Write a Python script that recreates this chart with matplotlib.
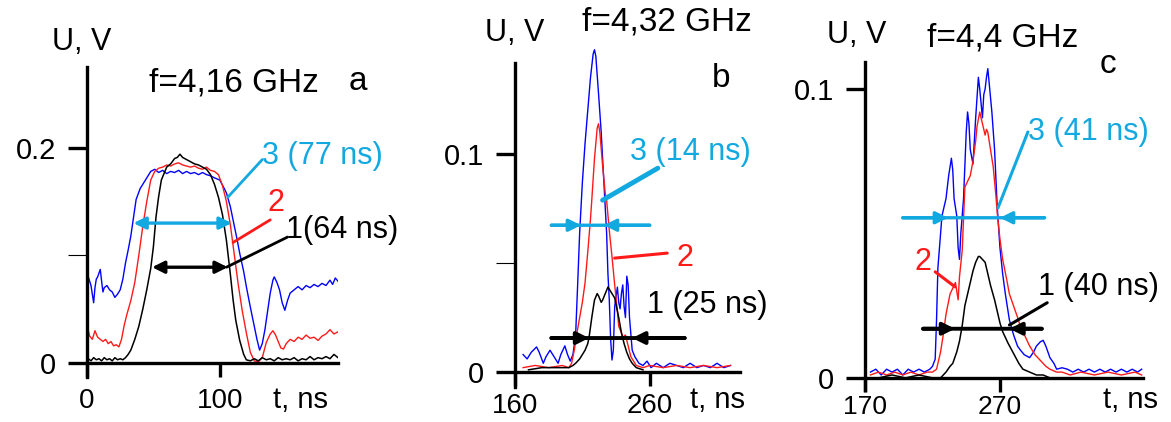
import numpy as np
import matplotlib
matplotlib.use("Agg")
import matplotlib.pyplot as plt
from matplotlib.ticker import NullLocator

plt.rcParams['font.family'] = ['Liberation Sans', 'DejaVu Sans']

BLUE = '#0000ff'
RED = '#ff1a1a'
CYAN = '#12a8e0'

# ---------------- panel a: f = 4.16 GHz ----------------
a_black = [(0, 0.010), (1, 0.004), (3, 0.002), (5, 0.005), (7, 0.003), (9, 0.004), (11, 0.002),
           (13, 0.005), (15, 0.003), (17, 0.004), (19, 0.002), (21, 0.005), (23, 0.003), (25, 0.004),
           (27, 0.003), (29, 0.005), (31, 0.008), (33, 0.012), (36, 0.022), (39, 0.034), (42, 0.050),
           (45, 0.068), (48, 0.088), (50, 0.108), (52, 0.136), (54, 0.155), (56, 0.170), (58, 0.176),
           (60, 0.182), (63, 0.185), (66, 0.190), (68, 0.191), (70, 0.194), (72, 0.191), (75, 0.189),
           (78, 0.187), (81, 0.185), (84, 0.184), (87, 0.182), (90, 0.180), (93, 0.175), (96, 0.166),
           (99, 0.154), (102, 0.138), (105, 0.114), (108, 0.082), (110, 0.059), (112, 0.040),
           (115, 0.021), (118, 0.008), (120, 0.003), (123, 0.002), (126, 0.004), (129, 0.002),
           (132, 0.005), (135, 0.003), (138, 0.004), (141, 0.002), (144, 0.005), (147, 0.003),
           (150, 0.004), (153, 0.003), (156, 0.005), (159, 0.002), (162, 0.004), (165, 0.003),
           (168, 0.006), (171, 0.003), (174, 0.005), (177, 0.004), (180, 0.006), (183, 0.004),
           (186, 0.008), (189, 0.005)]
a_red = [(0, 0.035), (2, 0.025), (4, 0.022), (6, 0.030), (8, 0.024), (10, 0.022), (12, 0.020),
         (14, 0.022), (16, 0.018), (18, 0.020), (20, 0.016), (22, 0.017), (24, 0.015), (26, 0.022),
         (28, 0.035), (30, 0.045), (33, 0.058), (36, 0.075), (39, 0.100), (42, 0.127), (45, 0.150),
         (48, 0.170), (51, 0.178), (54, 0.181), (57, 0.182), (60, 0.184), (63, 0.183), (66, 0.185),
         (69, 0.186), (72, 0.184), (75, 0.183), (78, 0.182), (81, 0.183), (84, 0.181), (87, 0.180),
         (90, 0.182), (93, 0.179), (96, 0.178), (99, 0.175), (102, 0.165), (105, 0.150), (108, 0.128),
         (111, 0.100), (114, 0.072), (117, 0.048), (120, 0.028), (123, 0.010), (126, 0.002),
         (129, 0.001), (132, 0.005), (135, 0.019), (138, 0.027), (140, 0.030), (142, 0.026),
         (144, 0.020), (146, 0.014), (148, 0.013), (150, 0.018), (153, 0.022), (156, 0.020),
         (159, 0.024), (162, 0.022), (165, 0.026), (168, 0.023), (171, 0.024), (174, 0.021),
         (177, 0.025), (180, 0.027), (183, 0.031), (186, 0.027), (189, 0.029)]
a_blue = [(0, 0.084), (1, 0.080), (2, 0.076), (3, 0.072), (4, 0.064), (5, 0.056), (6, 0.070),
          (7, 0.078), (8, 0.080), (10, 0.087), (11, 0.076), (12, 0.066), (13, 0.070), (15, 0.072),
          (17, 0.068), (19, 0.066), (21, 0.061), (23, 0.064), (25, 0.068), (27, 0.078), (29, 0.093),
          (31, 0.105), (33, 0.118), (35, 0.135), (37, 0.152), (40, 0.162), (42, 0.166), (45, 0.172),
          (48, 0.178), (51, 0.180), (54, 0.177), (57, 0.179), (60, 0.176), (63, 0.178), (66, 0.177),
          (69, 0.179), (72, 0.176), (75, 0.178), (78, 0.176), (81, 0.177), (84, 0.175), (87, 0.177),
          (90, 0.175), (93, 0.174), (96, 0.172), (100, 0.170), (103, 0.163), (105, 0.158),
          (108, 0.145), (110, 0.133), (113, 0.115), (115, 0.102), (118, 0.085), (120, 0.071),
          (123, 0.052), (125, 0.040), (128, 0.022), (130, 0.012), (132, 0.018), (134, 0.031),
          (136, 0.048), (138, 0.065), (140, 0.077), (141, 0.080), (143, 0.075), (145, 0.068),
          (147, 0.056), (149, 0.049), (151, 0.058), (153, 0.065), (156, 0.068), (159, 0.071),
          (162, 0.068), (165, 0.072), (168, 0.070), (171, 0.073), (174, 0.071), (177, 0.074),
          (180, 0.072), (183, 0.077), (185, 0.073), (187, 0.079), (189, 0.076)]

# ---------------- panel b: f = 4.32 GHz ----------------
b_blue = [(166, 0.008), (169, 0.006), (172, 0.009), (176, 0.0115), (178, 0.009), (181, 0.004),
          (183, 0.007), (186, 0.010), (188, 0.008), (192, 0.004), (194, 0.008), (197, 0.012),
          (199, 0.008), (201, 0.005), (203, 0.008), (205, 0.017), (206.5, 0.040), (208, 0.064),
          (210, 0.087), (212, 0.105), (214, 0.120), (216, 0.135), (218, 0.146), (219, 0.148),
          (220, 0.145), (222, 0.128), (224, 0.110), (226, 0.087), (228, 0.064), (229, 0.045),
          (230, 0.033), (231, 0.015), (232, 0.0055), (233, 0.010), (234, 0.030), (236, 0.039),
          (237, 0.032), (238, 0.029), (239, 0.036), (240, 0.040), (241, 0.030), (242, 0.025),
          (243, 0.044), (244, 0.040), (245, 0.025), (247, 0.010), (249, 0.007), (252, 0.004),
          (255, 0.003), (258, 0.005), (261, 0.002), (265, 0.004), (270, 0.002), (275, 0.004),
          (280, 0.003), (285, 0.002), (290, 0.004), (295, 0.002), (300, 0.003), (305, 0.002),
          (310, 0.004), (315, 0.002), (320, 0.003)]
b_red = [(166, 0.002), (175, 0.003), (185, 0.002), (195, 0.003), (200, 0.002), (202, 0.004),
         (204, 0.010), (206, 0.018), (208, 0.025), (210, 0.032), (212, 0.041), (214, 0.055),
         (216, 0.070), (217, 0.079), (219, 0.098), (221, 0.112), (222, 0.114), (223, 0.110),
         (225, 0.095), (227, 0.082), (228, 0.079), (230, 0.065), (232, 0.053), (234, 0.040),
         (236, 0.028), (237, 0.021), (239, 0.018), (240, 0.016), (242, 0.017), (244, 0.012),
         (246, 0.007), (248, 0.005), (250, 0.003), (255, 0.002), (260, 0.003), (270, 0.002),
         (280, 0.003), (290, 0.002), (300, 0.003), (310, 0.002), (320, 0.003)]
b_black = [(170, 0.001), (180, 0.002), (190, 0.002), (200, 0.002), (203, 0.003), (205, 0.004),
           (208, 0.006), (210, 0.008), (212, 0.010), (214, 0.013), (215, 0.016), (217, 0.025),
           (219, 0.033), (221, 0.036), (222, 0.035), (224, 0.032), (225, 0.033), (227, 0.036),
           (229, 0.039), (230, 0.038), (232, 0.036), (234, 0.034), (235, 0.031), (237, 0.025),
           (239, 0.018), (241, 0.013), (243, 0.009), (245, 0.006), (247, 0.004), (250, 0.002),
           (255, 0.001)]

# ---------------- panel c: f = 4.4 GHz ----------------
c_blue = [(174, 0.002), (178, 0.003), (182, 0.001), (186, 0.003), (190, 0.002), (194, 0.003),
          (198, 0.001), (202, 0.003), (206, 0.002), (210, 0.003), (214, 0.002), (218, 0.003),
          (220, 0.004), (222, 0.0065), (223, 0.020), (224, 0.038), (226, 0.050), (227, 0.056),
          (229, 0.060), (230, 0.062), (232, 0.070), (234, 0.076), (235, 0.072), (236, 0.062),
          (238, 0.056), (239, 0.045), (240, 0.041), (241, 0.050), (243, 0.062), (245, 0.085),
          (246, 0.092), (247, 0.088), (248, 0.079), (250, 0.074), (252, 0.090), (254, 0.104),
          (255, 0.100), (256, 0.095), (257, 0.090), (258, 0.098), (259, 0.100), (260, 0.104),
          (261, 0.107), (262, 0.102), (264, 0.092), (266, 0.079), (268, 0.059), (270, 0.045),
          (272, 0.036), (274, 0.029), (277, 0.020), (280, 0.015), (283, 0.011), (285, 0.0097),
          (288, 0.008), (292, 0.007), (295, 0.009), (297, 0.011), (300, 0.0125), (302, 0.013),
          (304, 0.011), (307, 0.007), (310, 0.005), (312, 0.003), (316, 0.0035), (320, 0.003),
          (324, 0.002), (328, 0.003), (332, 0.002), (336, 0.003), (340, 0.002), (344, 0.003),
          (348, 0.002), (352, 0.003), (356, 0.002), (360, 0.003), (364, 0.002), (368, 0.003),
          (372, 0.002), (375, 0.003)]
c_red = [(174, 0.001), (180, 0.002), (186, 0.001), (192, 0.002), (198, 0.001), (204, 0.002),
         (210, 0.001), (216, 0.002), (220, 0.002), (223, 0.003), (226, 0.009), (228, 0.015),
         (230, 0.022), (233, 0.029), (235, 0.031), (237, 0.033), (239, 0.027), (240, 0.035),
         (242, 0.044), (244, 0.066), (246, 0.068), (248, 0.070), (250, 0.075), (252, 0.082),
         (253, 0.087), (255, 0.092), (257, 0.088), (259, 0.084), (260, 0.086), (261, 0.085),
         (263, 0.079), (265, 0.073), (267, 0.063), (268, 0.057), (270, 0.048), (272, 0.041),
         (275, 0.034), (277, 0.029), (280, 0.025), (283, 0.021), (285, 0.018), (288, 0.015),
         (292, 0.011), (296, 0.008), (300, 0.006), (304, 0.004), (307, 0.003), (312, 0.002),
         (316, 0.002), (322, 0.001), (330, 0.002), (340, 0.001), (350, 0.002), (360, 0.001),
         (370, 0.002), (375, 0.001)]
c_black = [(180, 0.0), (190, 0.001), (200, 0.0), (210, 0.001), (220, 0.0), (226, 0.0),
           (230, 0.002), (233, 0.004), (235, 0.005), (238, 0.009), (240, 0.0127), (242, 0.018),
           (244, 0.025), (246, 0.029), (248, 0.033), (250, 0.037), (252, 0.040), (254, 0.042),
           (255, 0.042), (257, 0.041), (259, 0.040), (261, 0.036), (263, 0.032), (266, 0.027),
           (268, 0.023), (270, 0.019), (272, 0.016), (276, 0.012), (280, 0.0085), (284, 0.005),
           (287, 0.003), (292, 0.002), (297, 0.001), (302, 0.001), (307, 0.0)]


def xy(pairs):
    arr = np.array(pairs)
    return arr[:, 0], arr[:, 1]


def style(ax, xlim, ylim, xticks, yticks, ylabels, yminor=None, spine_top=None,
          xpad=8, xsize=20):
    ax.set_xlim(xlim)
    ax.set_ylim(ylim)
    ax.patch.set_alpha(0)
    for s in ['top', 'right']:
        ax.spines[s].set_visible(False)
    ax.spines['bottom'].set_position(('data', 0))
    ax.spines['left'].set_linewidth(2.4)
    ax.spines['bottom'].set_linewidth(2.4)
    if spine_top is not None:
        ax.spines['left'].set_bounds(ylim[0], spine_top)
    ax.set_xticks(xticks)
    ax.set_xticklabels([str(t) for t in xticks])
    ax.set_yticks(yticks)
    ax.set_yticklabels(ylabels)
    ax.xaxis.set_minor_locator(NullLocator())
    if yminor:
        ax.set_yticks(yminor, minor=True)
    ax.tick_params(axis='y', which='major', direction='out', length=14, width=2.4, pad=8, labelsize=21)
    ax.tick_params(axis='y', which='minor', direction='out', length=14, width=0.8)
    ax.tick_params(axis='x', which='major', direction='out', length=10, width=2.4, pad=xpad,
                   labelsize=xsize)


def txt(ax, x, y, s, color='black', size=22):
    ax.text(x, y, s, ha='left', va='center', fontsize=size, color=color, clip_on=False)


def line(ax, p0, p1, color, lw=2.0, style='-'):
    ax.annotate('', xy=p1, xytext=p0, annotation_clip=False,
                arrowprops=dict(arrowstyle=style, color=color, lw=lw, shrinkA=0, shrinkB=0,
                                mutation_scale=18))


def inward(ax, x0, t0, t1, x1, y, color, lw=2.4):
    # horizontal bar with two arrowheads pointing at each other
    line(ax, (x0, y), (x1, y), color, lw)
    line(ax, (x0, y), (t0, y), color, lw, '-|>')
    line(ax, (x1, y), (t1, y), color, lw, '-|>')


fig = plt.figure(figsize=(11.71, 4.22), dpi=100)

# ---- a ----
ax = fig.add_axes([0.0743, 0.1066, 0.2143, 0.7346])
style(ax, (0, 189), (-0.013, 0.275), [0, 100], [0, 0.2], ['0', '0.2'], yminor=[0.1])
for data, c, lw in [(a_blue, BLUE, 1.0), (a_red, RED, 1.0), (a_black, 'black', 1.1)]:
    ax.plot(*xy(data), color=c, lw=lw)
line(ax, (35, 0.130), (109, 0.130), CYAN, 2.4, '<|-|>')
line(ax, (49, 0.089), (106, 0.089), 'black', 2.4, '<|-|>')
line(ax, (106, 0.154), (132, 0.189), CYAN, 2.0)
line(ax, (110, 0.112), (138, 0.133), RED, 2.0)
line(ax, (105, 0.089), (151, 0.117), 'black', 2.0)
txt(ax, 132, 0.192, '3 (77 ns)', CYAN)
txt(ax, 136, 0.149, '2', RED)
txt(ax, 150, 0.124, '1(64 ns)')
txt(ax, 47, 0.260, 'f=4,16 GHz', size=24)
txt(ax, 197, 0.262, 'a', size=24)
txt(ax, -26, 0.298, 'U, V')
txt(ax, 140, -0.034, 't, ns', size=21)

# ---- b ----
ax = fig.add_axes([0.4398, 0.0829, 0.1921, 0.8199])
style(ax, (160, 327), (-0.0069, 0.152), [160, 260], [0, 0.1], ['0', '0.1'],
      yminor=[0.05], spine_top=0.1417, xpad=5)
for data, c, lw in [(b_blue, BLUE, 1.0), (b_red, RED, 1.0), (b_black, 'black', 1.1)]:
    ax.plot(*xy(data), color=c, lw=lw)
inward(ax, 187, 209, 226, 260, 0.0674, CYAN)
inward(ax, 187, 215, 247, 286, 0.0156, 'black', 2.8)
line(ax, (225, 0.0789), (266, 0.0936), CYAN, 3.5)
line(ax, (234, 0.0523), (273, 0.0546), RED, 2.2)
txt(ax, 245, 0.1009, '3 (14 ns)', CYAN)
txt(ax, 280, 0.0523, '2', RED)
txt(ax, 258, 0.0307, '1 (25 ns)')
txt(ax, 210, 0.1606, 'f=4,32 GHz', size=24)
txt(ax, 306, 0.135, 'b', size=24)
txt(ax, 138, 0.1555, 'U, V')
txt(ax, 290, -0.0128, 't, ns', size=21)

# ---- c ----
ax = fig.add_axes([0.7387, 0.0758, 0.2374, 0.7773])
style(ax, (170, 376), (-0.0042, 0.1093), [170, 270], [0, 0.1], ['0', '0.1'],
      xpad=2, xsize=19)
for data, c, lw in [(c_blue, BLUE, 1.0), (c_red, RED, 1.0), (c_black, 'black', 1.1)]:
    ax.plot(*xy(data), color=c, lw=lw)
inward(ax, 198, 231.5, 270, 303, 0.0554, CYAN)
inward(ax, 213, 236.7, 277, 301, 0.0170, 'black', 2.8)
line(ax, (268.5, 0.0588), (290.7, 0.0851), CYAN, 2.2)
line(ax, (222, 0.0367), (236.7, 0.0315), RED, 2.2)
line(ax, (277, 0.0183), (305, 0.0260), 'black', 2.2)
txt(ax, 290.7, 0.0851, '3 (41 ns)', CYAN)
txt(ax, 207, 0.0400, '2', RED)
txt(ax, 298, 0.0315, '1 (40 ns)')
txt(ax, 216, 0.1176, 'f=4,4 GHz', size=24)
txt(ax, 344, 0.1083, 'c', size=24)
txt(ax, 142, 0.1187, 'U, V')
txt(ax, 346, -0.0076, 't, ns', size=21)

fig.savefig('out.png', dpi=100)
